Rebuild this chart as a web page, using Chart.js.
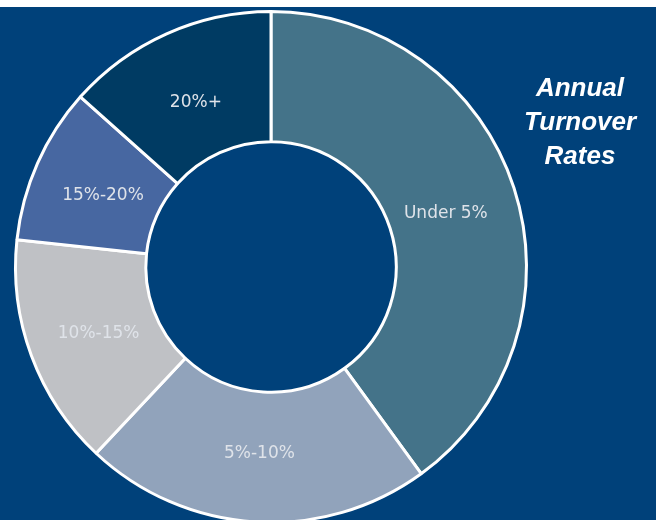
<!DOCTYPE html>
<html>
<head>
<meta charset="utf-8">
<script src="https://cdn.jsdelivr.net/npm/chart.js@4.4.0/dist/chart.umd.min.js"></script>
<style>
  html, body { margin: 0; padding: 0; background: #ffffff; }
  .panel {
    position: absolute; left: 0; top: 7px; width: 656px; height: 513px;
    background: #00417a; overflow: hidden;
  }
  .chart-box { position: absolute; left: 0; top: -7px; width: 657px; height: 540px; }
  .title {
    position: absolute; left: 510px; top: 63px; width: 140px;
    text-align: center; color: #ffffff;
    font: italic bold 26px "Liberation Sans", Arial, sans-serif;
    line-height: 34px;
  }
</style>
</head>
<body>
<div class="panel">
  <div class="chart-box"><canvas id="turnover"></canvas></div>
  <div class="title">Annual<br>Turnover<br>Rates</div>
</div>
<script>
const categories = ["Under 5%", "5%-10%", "10%-15%", "15%-20%", "20%+"];
const shares = [40, 22, 14.7, 9.9, 13.4];
const sliceColors = ["#447389", "#91a3bb", "#bfc1c5", "#4767a1", "#003b63"];

// write each category name inside its slice
const sliceLabels = {
  id: 'sliceLabels',
  afterDatasetsDraw(chart) {
    const { ctx } = chart;
    const meta = chart.getDatasetMeta(0);
    ctx.save();
    ctx.font = '17px "DejaVu Sans", Verdana, sans-serif';
    ctx.fillStyle = '#dfe3e9';
    ctx.textAlign = 'center';
    ctx.textBaseline = 'middle';
    meta.data.forEach((arc, i) => {
      const p = arc.getProps(['x', 'y', 'startAngle', 'endAngle', 'innerRadius', 'outerRadius'], true);
      const mid = (p.startAngle + p.endAngle) / 2;
      const r = p.innerRadius + (p.outerRadius - p.innerRadius) * 0.45;
      ctx.fillText(categories[i], p.x + Math.cos(mid) * r, p.y + Math.sin(mid) * r + 3);
    });
    ctx.restore();
  }
};

new Chart(document.getElementById('turnover'), {
  type: 'doughnut',
  data: {
    labels: categories,
    datasets: [{
      data: shares,
      backgroundColor: sliceColors,
      borderColor: '#ffffff',
      borderWidth: 3
    }]
  },
  options: {
    responsive: true,
    maintainAspectRatio: false,
    animation: false,
    cutout: '49%',
    layout: { padding: { left: 14, right: 129, top: 10, bottom: 16 } },
    plugins: {
      legend: { display: false },
      tooltip: { enabled: false }
    }
  },
  plugins: [sliceLabels]
});
</script>
</body>
</html>
